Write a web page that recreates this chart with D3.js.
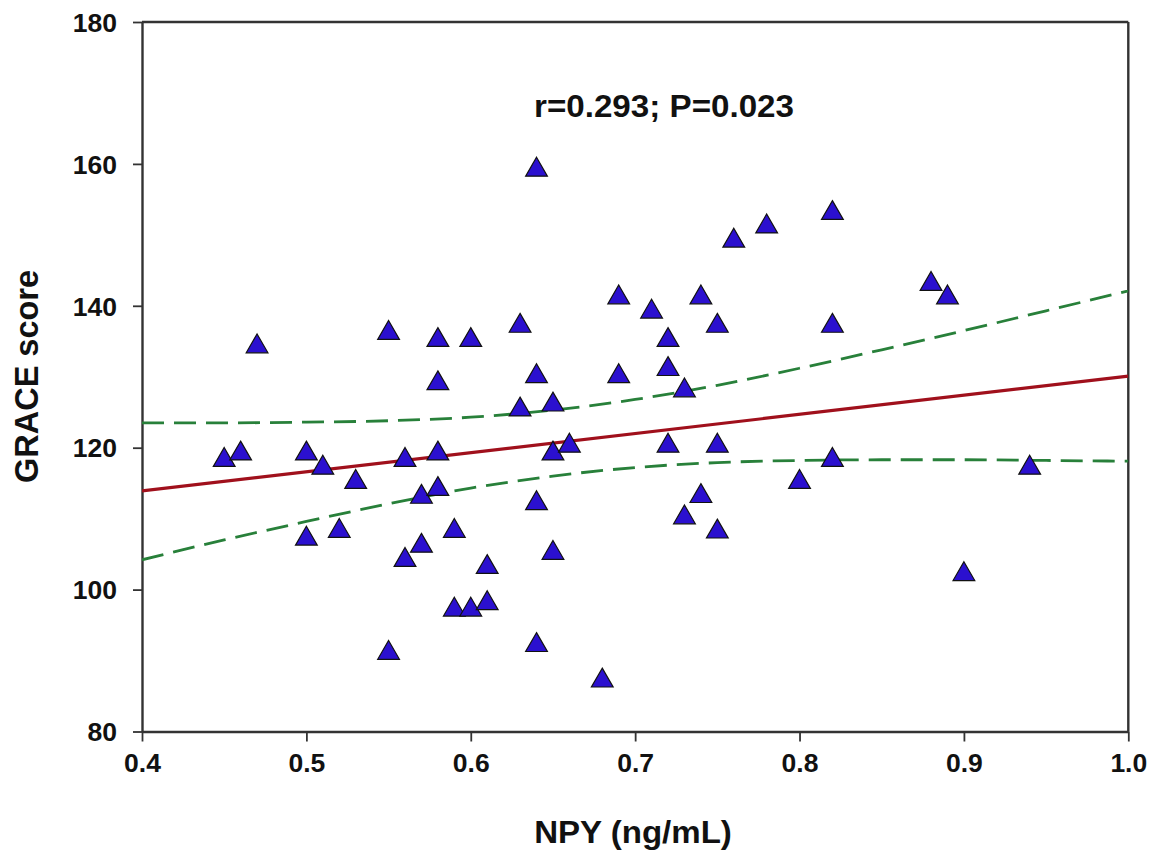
<!DOCTYPE html>
<html>
<head>
<meta charset="utf-8">
<script src="https://cdn.jsdelivr.net/npm/d3@7"></script>
<style>
  html, body { margin: 0; padding: 0; background: #fff; }
  svg { display: block; }
  text { font-family: "Liberation Sans", Arial, sans-serif; font-weight: bold; fill: #111; }
</style>
</head>
<body>
<svg id="chart" width="1155" height="852"></svg>
<script>
// ---- data ----
const npy = [0.45,0.46,0.47,0.50,0.50,0.51,0.52,0.53,0.55,0.55,0.56,0.56,0.57,0.57,0.58,0.58,0.58,0.58,0.59,0.59,
             0.60,0.60,0.61,0.61,0.63,0.63,0.64,0.64,0.64,0.64,0.65,0.65,0.65,0.66,0.68,0.69,0.69,0.71,0.72,0.72,
             0.72,0.73,0.73,0.74,0.74,0.75,0.75,0.75,0.76,0.78,0.80,0.82,0.82,0.82,0.88,0.89,0.90,0.94];
const grace = [118.4,119.3,134.4,119.3,107.3,117.3,108.4,115.3,136.3,91.2,118.4,104.3,113.2,106.3,135.3,129.2,119.3,114.3,108.4,97.3,
               135.3,97.3,103.3,98.2,137.3,125.5,159.3,130.2,112.3,92.3,126.2,119.3,105.3,120.4,87.3,141.3,130.2,139.3,135.3,131.2,
               120.4,128.2,110.3,141.3,113.3,137.3,120.4,108.3,149.3,151.3,115.3,153.2,137.3,118.4,143.2,141.3,102.3,117.3];

const fitX = [0.4, 1.0];
const fitY = [113.9, 130.1];

const bandX  = [0.40, 0.45, 0.50, 0.55, 0.60, 0.65, 0.70, 0.75, 0.80, 0.85, 0.90, 0.95, 1.00];
const upperY = [123.5, 123.5, 123.6, 123.8, 124.3, 125.3, 126.8, 128.8, 131.2, 133.8, 136.5, 139.3, 142.1];
const lowerY = [104.2, 107.0, 109.6, 112.1, 114.3, 116.0, 117.2, 117.9, 118.2, 118.3, 118.3, 118.2, 118.1];

const xTicks = [0.4, 0.5, 0.6, 0.7, 0.8, 0.9, 1.0];
const yTicks = [80, 100, 120, 140, 160, 180];

const annotation = "r=0.293; P=0.023";
const xTitle = "NPY (ng/mL)";
const yTitle = "GRACE score";

// ---- layout ----
const svg = d3.select("#chart");
const L = 142, R = 1128.3, T = 22, B = 731.5;

const x = d3.scaleLinear().domain([0.4, 1.0]).range([L, R]);
const y = d3.scaleLinear().domain([80, 180]).range([B, T]);

svg.append("defs").append("clipPath").attr("id", "clip")
  .append("rect").attr("x", L).attr("y", T).attr("width", R - L).attr("height", B - T);

// frame (top and right)
svg.append("line").attr("x1", L).attr("x2", R).attr("y1", T).attr("y2", T)
  .attr("stroke", "#333").attr("stroke-width", 2.4);
svg.append("line").attr("x1", R).attr("x2", R).attr("y1", T).attr("y2", B)
  .attr("stroke", "#333").attr("stroke-width", 2.4);

// axes
const xAxis = svg.append("g").attr("transform", `translate(0,${B})`)
  .call(d3.axisBottom(x).tickValues(xTicks).tickFormat(d3.format(".1f")).tickSize(10).tickPadding(12).tickSizeOuter(0));
const yAxis = svg.append("g").attr("transform", `translate(${L},0)`)
  .call(d3.axisLeft(y).tickValues(yTicks).tickFormat(d3.format("d")).tickSize(9).tickPadding(16).tickSizeOuter(0));

[xAxis, yAxis].forEach(g => {
  g.select(".domain").attr("stroke", "#333").attr("stroke-width", 2.4);
  g.selectAll(".tick line").attr("stroke", "#333").attr("stroke-width", 1.8);
  g.selectAll(".tick text").attr("font-size", 26.5).attr("font-family", "Liberation Sans, Arial, sans-serif")
    .attr("font-weight", "bold").attr("fill", "#111");
});
yAxis.selectAll(".tick text").attr("dy", "0.35em");
xAxis.selectAll(".tick text").attr("dy", "0.7em");

const plot = svg.append("g").attr("clip-path", "url(#clip)");

// confidence bands
const bandLine = (arr) => d3.line().x((d, i) => x(bandX[i])).y((d, i) => y(arr[i])).curve(d3.curveMonotoneX)(arr);
[upperY, lowerY].forEach(arr => {
  plot.append("path").attr("d", bandLine(arr))
    .attr("fill", "none").attr("stroke", "#28803a").attr("stroke-width", 2.8)
    .attr("stroke-dasharray", "22,10");
});

// regression line
plot.append("path")
  .attr("d", d3.line().x((d, i) => x(fitX[i])).y((d, i) => y(d))(fitY))
  .attr("fill", "none").attr("stroke", "#a0101c").attr("stroke-width", 3.2);

// points
const sym = d3.symbol().type(d3.symbolTriangle).size(205);
svg.append("g").selectAll("path").data(npy).join("path")
  .attr("d", sym)
  .attr("transform", (d, i) => `translate(${x(d)},${y(grace[i]) + 1})`)
  .attr("fill", "#2b10cf").attr("stroke", "#111").attr("stroke-width", 1.2);

// texts
svg.append("text").attr("transform", "translate(664,117) scale(1.07,1)").attr("text-anchor", "middle")
  .attr("font-size", 31).text(annotation);
svg.append("text").attr("transform", "translate(633,843) scale(1.05,1)").attr("text-anchor", "middle")
  .attr("font-size", 31.5).text(xTitle);
svg.append("text").attr("transform", "translate(38,376.5) rotate(-90)").attr("text-anchor", "middle")
  .attr("font-size", 32.5).text(yTitle);
</script>
</body>
</html>
